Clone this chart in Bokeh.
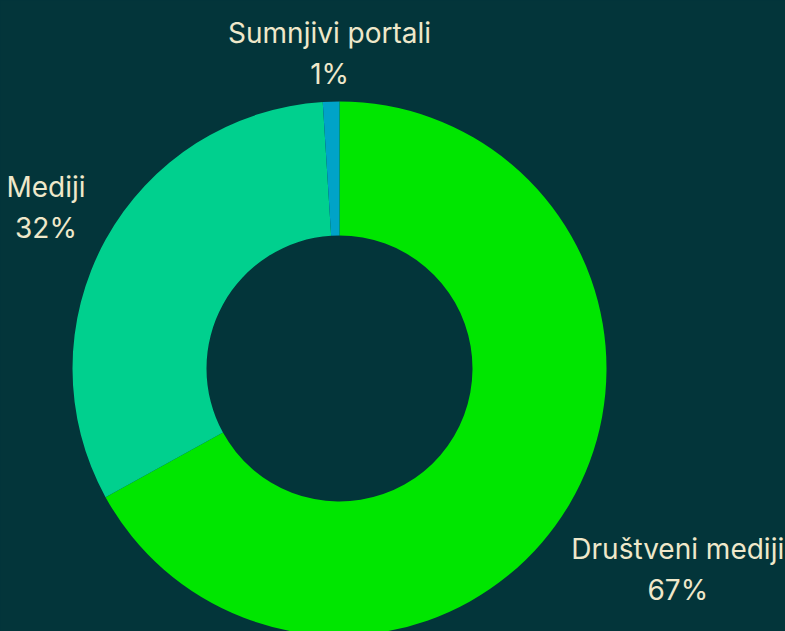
import math
from bokeh.plotting import figure
from bokeh.models import Range1d, ColumnDataSource
from bokeh.core.properties import value
from bokeh.embed import file_html
from bokeh.resources import INLINE

categories = ["Društveni mediji", "Mediji", "Sumnjivi portali"]
shares = [67, 32, 1]
labels_pct = ["67%", "32%", "1%"]
colors = ["#00E600", "#00D08E", "#00A3C8"]

BG = "#03353A"
TXT = "#EFE8CA"
W, H = 785, 631
CX, CY = 339, 368          # donut centre in page px (from top-left of plot)
R_OUT, R_IN = 267, 133
label_dist = [393, 335, 316]

p = figure(width=W, height=H, output_backend="svg", toolbar_location=None,
           x_range=Range1d(-CX, W - CX), y_range=Range1d(-(H - CY), CY),
           min_border=0, outline_line_color=None)
p.background_fill_color = BG
p.border_fill_color = BG
p.axis.visible = False
p.grid.visible = False

total = sum(shares)
starts, ends, mids = [], [], []
a = math.pi / 2
for s in shares:
    sweep = 2 * math.pi * s / total
    starts.append(a)
    ends.append(a - sweep)
    mids.append(a - sweep / 2)
    a -= sweep

src = ColumnDataSource(dict(cat=categories, start=starts, end=ends, color=colors))
p.annular_wedge(x=0, y=0, inner_radius=R_IN, outer_radius=R_OUT,
                start_angle="start", end_angle="end", direction="clock",
                fill_color="color", line_color=None, source=src)

lx = [d * math.cos(m) for d, m in zip(label_dist, mids)]
ly = [d * math.sin(m) for d, m in zip(label_dist, mids)]
lsrc = ColumnDataSource(dict(x=lx, y1=[y + 20 for y in ly], y2=[y - 21 for y in ly],
                             name=categories, pct=labels_pct))
for ycol, tcol in (("y1", "name"), ("y2", "pct")):
    p.text(x="x", y=ycol, text=tcol, source=lsrc, text_align="center",
           text_baseline="middle", text_color=TXT, text_font=value("Inter"),
           text_font_size="28px")

html = file_html(p, INLINE)
html = html.replace("<head>", "<head><style>html,body{background:%s;margin:0;}</style>" % BG, 1)
open("out.html", "w").write(html)
